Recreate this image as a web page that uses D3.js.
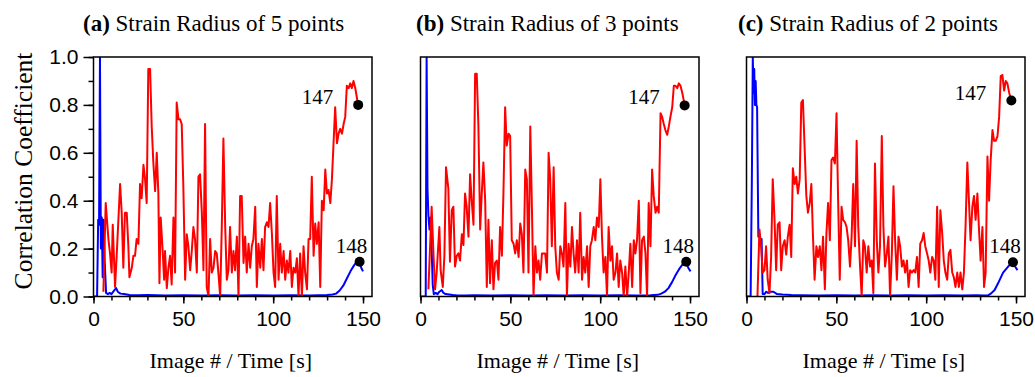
<!DOCTYPE html>
<html><head><meta charset="utf-8">
<script src="https://cdn.jsdelivr.net/npm/d3@7"></script>
<style>
html,body{margin:0;padding:0;background:#fff;}
svg{display:block;}
</style></head>
<body><svg id="chart" width="1035" height="377"></svg>
<script>
// ---------------- DATA ----------------
const panelLetters = ["(a)", "(b)", "(c)"];
const panelTitles = ["Strain Radius of 5 points", "Strain Radius of 3 points", "Strain Radius of 2 points"];
const xMajorTicks = [0, 50, 100, 150];
const xMinorTicks = [0, 10, 20, 30, 40, 50, 60, 70, 80, 90, 100, 110, 120, 130, 140, 150];
const yMajorTicks = [0, 0.2, 0.4, 0.6, 0.8, 1.0];
const yMinorTicks = [0, 0.1, 0.2, 0.3, 0.4, 0.5, 0.6, 0.7, 0.8, 0.9, 1.0];
const yTickLabels = ["0.0", "0.2", "0.4", "0.6", "0.8", "1.0"];
const xAxisTitle = "Image # / Time [s]";
const yAxisTitle = "Correlation Coefficient";
const markerLabels = ["147", "148"];

// Panel (a) red series (image 147 correlation)
const redX_a = [5.5,6.8,8.3,9.2,10.1,10.7,12.0,12.9,14.8,15.7,16.6,17.5,18.5,19.4,20.0,21.3,22.2,23.1,24.0,25.0,25.9,26.8,27.8,28.7,29.6,30.5,31.5,32.4,33.3,34.3,35.2,36.1,36.7,37.4,38.5,39.3,39.8,40.8,41.7,42.6,43.5,44.5,45.4,46.3,47.3,48.2,49.1,50.0,51.0,51.9,52.8,53.8,54.7,55.6,56.5,57.5,58.4,59.3,60.3,61.2,62.1,63.0,64.0,64.9,65.8,66.8,67.7,68.6,69.5,70.5,71.4,72.3,73.3,74.2,75.1,76.0,77.0,77.9,78.8,79.8,80.7,81.6,82.5,83.5,84.4,85.3,86.3,87.2,88.1,89.0,90.0,90.9,91.8,92.8,93.7,94.6,95.5,96.5,97.4,98.3,99.3,100.2,101.1,102.0,103.0,103.9,104.8,105.8,106.7,107.6,108.5,109.5,110.4,111.3,112.3,113.2,114.1,115.0,116.0,116.9,117.8,118.8,119.7,120.6,121.5,122.5,123.4,124.3,125.3,126.2,127.1,128.1,129.0,129.9,130.8,131.8,132.7,133.6,134.5,135.5,136.4,137.3,138.3,139.2,140.1,141.0,142.0,142.9,143.8,144.7,145.7,146.6,147.3];
const redY_a = [0.02,0.39,0.24,0.18,0.10,0.30,0.04,0.17,0.47,0.35,0.12,0.35,0.35,0.21,0.08,0.12,0.17,0.17,0.24,0.22,0.47,0.41,0.55,0.49,0.39,0.95,0.95,0.71,0.56,0.44,0.60,0.43,0.055,0.33,0.19,0.07,0.19,0.035,0.12,0.17,0.05,0.33,0.10,0.81,0.74,0.74,0.72,0.46,0.07,0.26,0.21,0.11,0.19,0.29,0.24,0.10,0.50,0.51,0.35,0.11,0.72,0.04,0.0,0.24,0.10,0.12,0.19,0.18,0.10,0.0,0.29,0.66,0.29,0.07,0.11,0.29,0.10,0.19,0.11,0.25,0.0,0.42,0.42,0.14,0.25,0.10,0.22,0.12,0.21,0.24,0.375,0.04,0.22,0.12,0.24,0.11,0.29,0.31,0.29,0.39,0.26,0.10,0.04,0.42,0.07,0.22,0.10,0.19,0.07,0.15,0.10,0.19,0.04,0.12,0.10,0.16,0.0,0.18,0.0,0.21,0.10,0.03,0.24,0.24,0.50,0.17,0.305,0.22,0.31,0.04,0.40,0.36,0.53,0.43,0.445,0.39,0.49,0.64,0.79,0.64,0.68,0.70,0.68,0.72,0.75,0.88,0.87,0.89,0.87,0.90,0.87,0.83,0.80];
// Panel (a) blue series (image 148 correlation)
const blueX_a = [0,1,2,2.6,3.1,3.6,4.1,4.6,5.1,5.6,6.2,7,8,9,10,11,12,12.6,13.5,15,17,20,25,30,40,50,60,70,80,90,100,110,120,125,130,133,135,137,139,141,143,145,146.5,148,149,150];
const blueY_a = [0,0,0,0.32,0.3,1.0,0.2,0.33,0.08,0.32,0.15,0.015,0.01,0.015,0.01,0.02,0.03,0.035,0.02,0.012,0.01,0.006,0.005,0.006,0.004,0.005,0.004,0.005,0.004,0.005,0.004,0.005,0.004,0.005,0.006,0.008,0.012,0.025,0.045,0.075,0.105,0.13,0.145,0.145,0.12,0.105];

// Panel (b)
const redX_b = [4.4,6.2,7.2,8.1,9.0,10.5,11.2,12.4,13.3,14.2,15.5,16.4,17.4,18.3,19.2,20.2,21.1,22.0,23.0,23.9,24.8,25.7,26.7,27.6,28.5,29.5,30.4,31.3,32.2,33.2,34.1,35.0,36.0,36.9,37.8,38.7,39.7,40.6,41.5,42.5,43.4,44.3,45.3,46.2,47.1,48.0,49.0,49.9,50.8,51.8,52.7,53.6,54.6,55.5,56.4,57.3,58.3,59.2,60.1,61.1,62.0,62.9,63.9,64.8,65.7,66.6,67.6,68.5,69.4,70.4,71.3,72.2,73.1,74.1,75.0,75.9,76.9,77.8,78.7,79.6,80.6,81.5,82.4,83.4,84.3,85.2,86.1,87.1,88.0,88.9,89.9,90.8,91.7,92.7,93.6,94.5,95.4,96.4,97.3,98.2,99.2,100.1,101.0,101.9,102.9,103.8,104.7,105.7,106.6,107.5,108.5,109.4,110.3,111.2,112.2,113.1,114.0,115.0,115.9,116.8,117.8,118.7,119.6,120.5,121.5,122.4,123.3,124.3,125.2,126.1,127.0,128.0,128.9,129.8,130.8,131.7,132.6,133.6,134.5,135.4,136.3,137.3,138.2,139.1,140.1,141.0,141.9,142.9,143.8,144.7,145.7,147.0];
const redY_b = [0.03,0.375,0.18,0.03,0.10,0.29,0.11,0.04,0.17,0.54,0.45,0.145,0.36,0.375,0.125,0.17,0.18,0.15,0.26,0.215,0.43,0.375,0.25,0.51,0.40,0.30,0.93,0.93,0.72,0.28,0.43,0.56,0.40,0.04,0.32,0.055,0.235,0.03,0.14,0.15,0.07,0.29,0.17,0.445,0.79,0.63,0.68,0.67,0.235,0.22,0.18,0.235,0.165,0.305,0.26,0.10,0.53,0.49,0.10,0.71,0.375,0.0,0.21,0.10,0.15,0.07,0.18,0.18,0.18,0.10,0.60,0.49,0.21,0.54,0.21,0.10,0.07,0.21,0.18,0.125,0.39,0.0,0.22,0.125,0.29,0.18,0.10,0.235,0.10,0.35,0.07,0.165,0.10,0.21,0.04,0.21,0.235,0.29,0.235,0.33,0.29,0.49,0.25,0.10,0.165,0.0,0.29,0.15,0.21,0.07,0.10,0.18,0.04,0.15,0.10,0.0,0.125,0.0,0.10,0.22,0.04,0.235,0.18,0.235,0.40,0.014,0.235,0.25,0.18,0.0,0.39,0.21,0.53,0.42,0.35,0.375,0.35,0.765,0.75,0.72,0.695,0.675,0.71,0.75,0.79,0.88,0.88,0.87,0.89,0.88,0.85,0.80];
const blueX_b = [0,1,2,2.9,3.4,3.9,4.4,5,5.6,6.2,6.8,7.4,8.5,9.5,10.5,11.8,12.8,14,16,18,20,25,30,40,50,60,70,80,90,100,110,120,128,132,134,136,138,140,142,144,146,147.9,149,150.3];
const blueY_b = [0,0,0,0,1.0,0.45,0.34,0.28,0.33,0.2,0.05,0.01,0.015,0.01,0.02,0.027,0.015,0.01,0.008,0.006,0.005,0.004,0.005,0.004,0.005,0.004,0.005,0.004,0.005,0.004,0.005,0.004,0.005,0.007,0.012,0.02,0.035,0.06,0.09,0.115,0.135,0.145,0.12,0.105];

// Panel (c)
const redX_c = [6.1,7.2,8.1,9.0,10.0,10.9,11.8,12.8,13.7,14.6,15.6,16.5,17.4,18.4,19.3,20.2,21.2,22.1,23.0,24.0,24.9,25.8,26.8,27.7,28.6,29.6,30.5,31.4,32.4,33.3,34.2,35.2,36.1,37.0,37.9,38.9,39.8,40.8,41.7,42.6,43.6,44.5,45.4,46.4,47.3,48.2,49.2,50.1,51.0,51.9,52.9,53.8,54.8,55.7,56.6,57.6,58.5,59.4,60.4,61.3,62.2,63.2,64.1,65.0,65.9,66.9,67.8,68.8,69.7,70.6,71.5,72.5,73.4,74.3,75.3,76.2,77.1,78.1,79.0,79.9,80.9,81.8,82.7,83.7,84.6,85.5,86.5,87.4,88.3,89.3,90.2,91.1,92.1,93.0,93.9,94.9,95.8,96.7,97.7,98.6,99.5,100.5,101.4,102.3,103.3,104.2,105.1,106.1,107.0,107.9,108.9,109.8,110.7,111.7,112.6,113.5,114.5,115.4,116.3,117.3,118.2,119.1,120.1,121.0,121.9,122.9,123.8,124.7,125.7,126.6,127.5,128.5,129.4,130.3,131.3,132.2,133.1,134.1,135.0,135.9,136.9,137.8,138.7,139.7,140.6,141.5,142.4,143.4,144.3,145.2,146.2,147.4];
const redY_c = [0.0,0.28,0.21,0.10,0.11,0.21,0.07,0.014,0.165,0.49,0.32,0.11,0.30,0.31,0.11,0.21,0.235,0.175,0.25,0.30,0.165,0.535,0.47,0.50,0.43,0.49,0.81,0.82,0.61,0.42,0.35,0.39,0.47,0.25,0.07,0.21,0.165,0.21,0.11,0.25,0.03,0.265,0.39,0.235,0.57,0.58,0.555,0.765,0.40,0.07,0.375,0.32,0.31,0.29,0.235,0.125,0.25,0.47,0.21,0.65,0.29,0.125,0.0,0.235,0.21,0.10,0.21,0.125,0.15,0.014,0.555,0.235,0.10,0.21,0.67,0.29,0.125,0.18,0.25,0.0,0.18,0.46,0.235,0.07,0.25,0.21,0.125,0.15,0.10,0.15,0.04,0.11,0.10,0.11,0.10,0.165,0.04,0.22,0.235,0.265,0.21,0.18,0.15,0.10,0.165,0.15,0.07,0.375,0.04,0.36,0.265,0.15,0.10,0.07,0.18,0.195,0.10,0.08,0.04,0.10,0.04,0.10,0.03,0.10,0.29,0.56,0.40,0.235,0.375,0.42,0.32,0.43,0.28,0.15,0.29,0.04,0.10,0.585,0.40,0.57,0.695,0.65,0.65,0.67,0.75,0.92,0.925,0.86,0.90,0.89,0.85,0.818];
const blueX_c = [0,1,2.3,3.0,3.5,3.9,4.3,4.7,5.1,5.5,5.9,6.6,7.2,7.8,8.4,9.0,10,11,12,13,15,17,20,25,30,40,50,60,70,80,90,100,110,120,128,132,134.4,136,138.1,140,142.8,145.6,148.3,149.5,150.8];
const blueY_c = [0,0,0,0.5,1.0,0.85,0.95,0.8,0.9,0.8,0.79,0.25,0.26,0.22,0.24,0.01,0.01,0.02,0.015,0.02,0.02,0.01,0.008,0.006,0.005,0.004,0.005,0.004,0.005,0.004,0.005,0.004,0.005,0.004,0.005,0.004,0.005,0.012,0.027,0.055,0.10,0.125,0.143,0.125,0.11];

// Highlighted points [x, y] for 147 (red) and 148 (blue)
const dots147 = [[147.3, 0.80], [147.0, 0.798], [147.4, 0.818]];
const dots148 = [[148.1, 0.145], [147.9, 0.145], [148.3, 0.143]];

// ---------------- LAYOUT ----------------
const panelLeft = [93.5, 420.5, 746.5];
const plotW = 278.5, plotTop = 57, plotH = 239.5;
const titleX = [83, 416, 738];
const seriesR = [[redX_a, redY_a], [redX_b, redY_b], [redX_c, redY_c]];
const seriesB = [[blueX_a, blueY_a], [blueX_b, blueY_b], [blueX_c, blueY_c]];

const svg = d3.select("#chart");
const serif = "Liberation Serif, Times New Roman, serif";
const sans = "Liberation Sans, Arial, sans-serif";

const y = d3.scaleLinear().domain([0, 1]).range([plotTop + plotH, plotTop]);

panelLetters.forEach((letter, i) => {
  const x0 = panelLeft[i];
  const x = d3.scaleLinear().domain([0, 155]).range([x0, x0 + plotW]);
  const g = svg.append("g");

  const clipId = "clip" + i;
  svg.append("clipPath").attr("id", clipId).append("rect")
    .attr("x", x0).attr("y", plotTop).attr("width", plotW).attr("height", plotH);

  const line = d3.line().x(d => x(d[0])).y(d => y(d[1]));
  const red = seriesR[i][0].map((v, k) => [v, seriesR[i][1][k]]);
  const blue = seriesB[i][0].map((v, k) => [v, seriesB[i][1][k]]);

  g.append("path").datum(blue).attr("d", line).attr("fill", "none")
    .attr("stroke", "#0000ff").attr("stroke-width", 2).attr("stroke-linejoin", "round")
    .attr("clip-path", `url(#${clipId})`);
  g.append("path").datum(red).attr("d", line).attr("fill", "none")
    .attr("stroke", "#ff0000").attr("stroke-width", 2).attr("stroke-linejoin", "round")
    .attr("clip-path", `url(#${clipId})`);

  g.append("rect").attr("x", x0).attr("y", plotTop).attr("width", plotW).attr("height", plotH)
    .attr("fill", "none").attr("stroke", "#000").attr("stroke-width", 1.5);

  const xb = g.append("g").attr("transform", `translate(0,${plotTop + plotH})`);
  xb.call(d3.axisBottom(x).tickValues(xMinorTicks).tickSize(4).tickFormat(""));
  const xm = g.append("g").attr("transform", `translate(0,${plotTop + plotH})`);
  xm.call(d3.axisBottom(x).tickValues(xMajorTicks).tickSize(7).tickPadding(8).tickFormat(d3.format("d")));
  [xb, xm].forEach(a => {
    a.select(".domain").remove();
    a.selectAll("line").attr("stroke", "#000").attr("stroke-width", 1.5);
  });
  xm.selectAll("text").style("font-family", sans).style("font-size", "21px").attr("fill", "#000");

  if (i === 0) {
    const yb = g.append("g").attr("transform", `translate(${x0},0)`);
    yb.call(d3.axisLeft(y).tickValues(yMinorTicks).tickSize(5).tickFormat(""));
    const ym = g.append("g").attr("transform", `translate(${x0},0)`);
    ym.call(d3.axisLeft(y).tickValues(yMajorTicks).tickSize(10).tickPadding(5)
      .tickFormat((d, k) => yTickLabels[k]));
    [yb, ym].forEach(a => {
      a.select(".domain").remove();
      a.selectAll("line").attr("stroke", "#000").attr("stroke-width", 1.5);
    });
    ym.selectAll("text").style("font-family", sans).style("font-size", "21px").attr("fill", "#000");
  }

  const d1 = dots147[i], d2 = dots148[i];
  g.append("circle").attr("cx", x(d1[0])).attr("cy", y(d1[1])).attr("r", 5).attr("fill", "#000");
  g.append("circle").attr("cx", x(d2[0])).attr("cy", y(d2[1])).attr("r", 5).attr("fill", "#000");
  g.append("text").attr("x", x(d1[0]) - 25).attr("y", y(d1[1]) - 1).attr("text-anchor", "end")
    .style("font-family", serif).style("font-size", "21px").text(markerLabels[0]);
  g.append("text").attr("x", x(d2[0]) - 8).attr("y", y(d2[1]) - 9).attr("text-anchor", "middle")
    .style("font-family", serif).style("font-size", "21px").text(markerLabels[1]);

  const t = g.append("text").attr("x", titleX[i]).attr("y", 31)
    .style("font-family", serif).style("font-size", "23px").attr("fill", "#000");
  t.append("tspan").attr("font-weight", "bold").text(letter);
  t.append("tspan").text(" " + panelTitles[i]);

  g.append("text").attr("x", x0 + plotW / 2 - 2).attr("y", 368).attr("text-anchor", "middle")
    .style("font-family", serif).style("font-size", "22px").text(xAxisTitle);
});

svg.append("text").attr("transform", "translate(32,171) rotate(-90)").attr("text-anchor", "middle")
  .style("font-family", serif).style("font-size", "25.5px").text(yAxisTitle);
</script>
</body></html>
